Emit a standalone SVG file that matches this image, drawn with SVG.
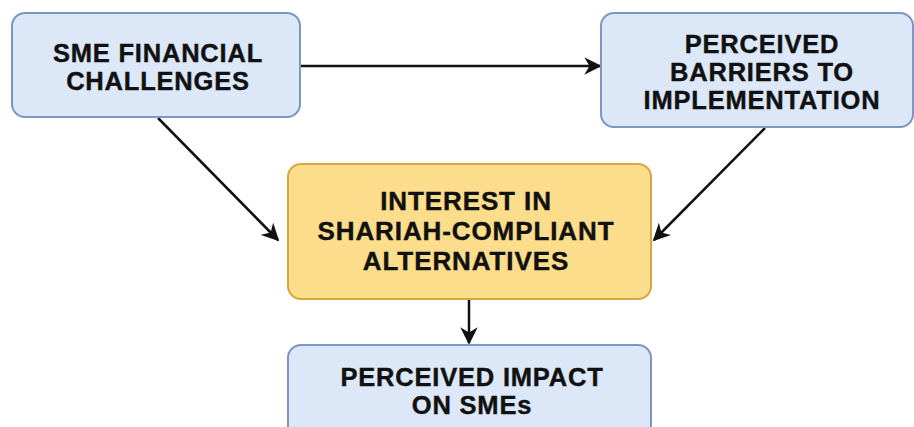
<svg xmlns="http://www.w3.org/2000/svg" width="914" height="427" viewBox="0 0 914 427">
<defs>
<style>
.blue{fill:#dce8f8;stroke:#7b97c2;stroke-width:2}
.yel{fill:#fbdd8b;stroke:#d6a93e;stroke-width:2}
.t{font-family:"Liberation Sans",Arial,sans-serif;font-weight:bold;font-size:25.5px;letter-spacing:0.8px;fill:#111;stroke:#111;stroke-width:0.4;text-anchor:middle}
.t2{font-size:26px;letter-spacing:0.9px}
.c{stroke:#111;stroke-width:2.5;fill:none}
</style>
<marker id="ah" viewBox="0 0 10 10" refX="9" refY="5" markerWidth="7" markerHeight="7" orient="auto" markerUnits="strokeWidth">
<path d="M0,0 L10,5 L0,10 L3,5 z" fill="#111"/>
</marker>
</defs>
<rect width="914" height="427" fill="#fff"/>
<g id="connectors">
<line class="c" x1="300" y1="66" x2="600" y2="66" marker-end="url(#ah)"/>
<line class="c" x1="158" y1="118" x2="278" y2="240" marker-end="url(#ah)"/>
<line class="c" x1="765" y1="128" x2="654" y2="240" marker-end="url(#ah)"/>
<line class="c" x1="469" y1="300" x2="469" y2="343" marker-end="url(#ah)"/>
</g>
<g id="sme-financial-challenges">
<rect class="blue" x="12" y="13" width="288" height="104" rx="13"/>
<text class="t" x="158" y="62">SME FINANCIAL</text>
<text class="t" x="158" y="90">CHALLENGES</text>
</g>
<g id="perceived-barriers">
<rect class="blue" x="601" y="13" width="312" height="114" rx="13"/>
<text class="t" x="762" y="53">PERCEIVED</text>
<text class="t" x="762" y="81">BARRIERS TO</text>
<text class="t" x="762" y="109">IMPLEMENTATION</text>
</g>
<g id="interest-shariah">
<rect class="yel" x="288" y="164" width="363" height="135" rx="13"/>
<text class="t t2" x="466" y="210">INTEREST IN</text>
<text class="t t2" x="466" y="240">SHARIAH-COMPLIANT</text>
<text class="t t2" x="466" y="270">ALTERNATIVES</text>
</g>
<g id="perceived-impact">
<rect class="blue" x="288" y="345" width="363" height="100" rx="13"/>
<text class="t" x="472" y="386">PERCEIVED IMPACT</text>
<text class="t" x="472" y="414">ON SMEs</text>
</g>
</svg>
